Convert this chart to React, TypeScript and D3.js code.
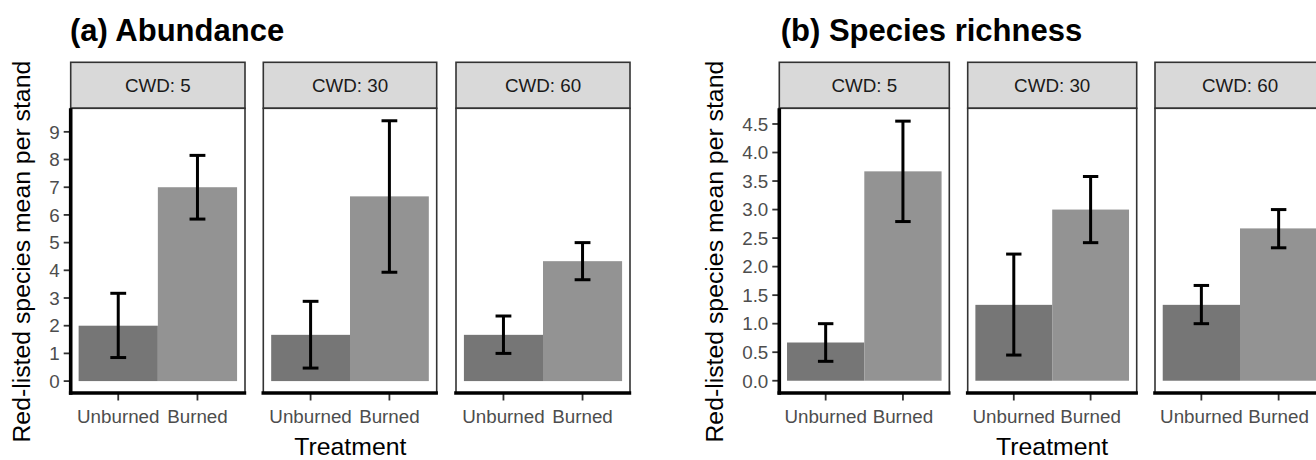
import React from 'react';
import * as d3 from 'd3';

const treatments = ['Unburned', 'Burned'];
const cwdLevels = ['CWD: 5', 'CWD: 30', 'CWD: 60'];

const abundanceMean = [[2.0, 7.0], [1.67, 6.67], [1.67, 4.33]];
const abundanceLow = [[0.85, 5.85], [0.47, 3.93], [1.0, 3.66]];
const abundanceHigh = [[3.17, 8.15], [2.88, 9.4], [2.35, 5.0]];
const abundanceTicks = [0, 1, 2, 3, 4, 5, 6, 7, 8, 9];

const richnessMean = [[0.67, 3.67], [1.33, 3.0], [1.33, 2.67]];
const richnessLow = [[0.34, 2.79], [0.45, 2.42], [1.0, 2.33]];
const richnessHigh = [[1.0, 4.55], [2.22, 3.58], [1.67, 3.0]];
const richnessTicks = [0, 0.5, 1, 1.5, 2, 2.5, 3, 3.5, 4, 4.5];

const titleA = '(a) Abundance';
const titleB = '(b) Species richness';
const yTitle = 'Red-listed species mean per stand';
const xTitle = 'Treatment';

const FONT = "'Liberation Sans', Arial, Helvetica, sans-serif";
const barColors = ['#767676', '#939393'];

type PlotProps = {
  title: string;
  mean: number[][];
  low: number[][];
  high: number[][];
  ticks: number[];
  tickFmt: (v: number) => string;
  domain: [number, number];
  panelX: [number, number][];
  titleX: number;
  yTitleX: number;
};

const STRIP_TOP = 62.3;
const PANEL_TOP = 108.3;
const PANEL_BOTTOM = 393;

function Plot(p: PlotProps) {
  const y = d3.scaleLinear().domain(p.domain).range([PANEL_BOTTOM, PANEL_TOP]);
  const axisX = p.panelX[0][0];
  const centerX = (p.panelX[0][0] + p.panelX[p.panelX.length - 1][1]) / 2;
  const centerY = (PANEL_TOP + PANEL_BOTTOM) / 2;
  return (
    <g>
      <text x={p.titleX} y={40.7} fontFamily={FONT} fontWeight="bold" fontSize={31} fill="#000">{p.title}</text>
      <text transform={`translate(${p.yTitleX},${centerY + 1}) rotate(-90)`} textAnchor="middle" fontFamily={FONT} fontSize={24.8} fill="#000">{yTitle}</text>
      <text x={centerX} y={454.5} textAnchor="middle" fontFamily={FONT} fontSize={24.8} fill="#000">{xTitle}</text>
      {cwdLevels.map((lab, i) => {
        const [x0, x1] = p.panelX[i];
        const x = d3.scaleBand<string>().domain(treatments).range([x0, x1]).paddingInner(0).paddingOuter(0.1);
        const bw = x.bandwidth();
        const capW = bw * 0.2;
        return (
          <g key={lab}>
            <rect x={x0} y={STRIP_TOP} width={x1 - x0} height={PANEL_TOP - STRIP_TOP} fill="#d9d9d9" stroke="#333" strokeWidth={1.6} />
            <text x={(x0 + x1) / 2} y={92} textAnchor="middle" fontFamily={FONT} fontSize={18.8} fill="#1a1a1a">{lab}</text>
            <rect x={x0} y={PANEL_TOP} width={x1 - x0} height={PANEL_BOTTOM - PANEL_TOP} fill="#fff" stroke="#333" strokeWidth={1.6} />
            {treatments.map((t, j) => {
              const bx = x(t) as number;
              const cx = bx + bw / 2;
              return (
                <g key={t}>
                  <rect x={bx} y={y(p.mean[i][j])} width={bw} height={y(0) - y(p.mean[i][j])} fill={barColors[j]} />
                  <line x1={cx} x2={cx} y1={y(p.low[i][j])} y2={y(p.high[i][j])} stroke="#000" strokeWidth={3} />
                  <line x1={cx - capW / 2} x2={cx + capW / 2} y1={y(p.low[i][j])} y2={y(p.low[i][j])} stroke="#000" strokeWidth={3} />
                  <line x1={cx - capW / 2} x2={cx + capW / 2} y1={y(p.high[i][j])} y2={y(p.high[i][j])} stroke="#000" strokeWidth={3} />
                  <line x1={cx} x2={cx} y1={PANEL_BOTTOM} y2={PANEL_BOTTOM + 7.5} stroke="#333" strokeWidth={1.8} />
                  <text x={cx} y={423} textAnchor="middle" fontFamily={FONT} fontSize={18.8} fill="#4d4d4d">{t}</text>
                </g>
              );
            })}
            <line x1={x0 - 1.8} x2={x1 + 1.2} y1={PANEL_BOTTOM} y2={PANEL_BOTTOM} stroke="#000" strokeWidth={3.6} />
          </g>
        );
      })}
      {p.ticks.map((v) => (
        <g key={v}>
          <line x1={axisX - 7} x2={axisX} y1={y(v)} y2={y(v)} stroke="#333" strokeWidth={1.8} />
          <text x={axisX - 11} y={y(v)} dy="0.36em" textAnchor="end" fontFamily={FONT} fontSize={18.8} fill="#4d4d4d">{p.tickFmt(v)}</text>
        </g>
      ))}
      <line x1={axisX} x2={axisX} y1={PANEL_TOP} y2={PANEL_BOTTOM + 1.8} stroke="#000" strokeWidth={3.6} />
    </g>
  );
}

export default function App() {
  return (
    <svg width={1316} height={460} style={{ position: 'absolute', left: 0, top: 0, background: '#fff' }}>
      <rect x={0} y={0} width={1316} height={460} fill="#fff" />
      <Plot
        title={titleA}
        mean={abundanceMean}
        low={abundanceLow}
        high={abundanceHigh}
        ticks={abundanceTicks}
        tickFmt={(v) => d3.format('d')(v)}
        domain={[-0.43, 9.85]}
        panelX={[[70.7, 245], [263.3, 436.7], [456, 630]]}
        titleX={70}
        yTitleX={30}
      />
      <Plot
        title={titleB}
        mean={richnessMean}
        low={richnessLow}
        high={richnessHigh}
        ticks={richnessTicks}
        tickFmt={(v) => d3.format('.1f')(v)}
        domain={[-0.215, 4.775]}
        panelX={[[779.3, 949.3], [967.7, 1136.7], [1155, 1325]]}
        titleX={780.7}
        yTitleX={723}
      />
    </svg>
  );
}
